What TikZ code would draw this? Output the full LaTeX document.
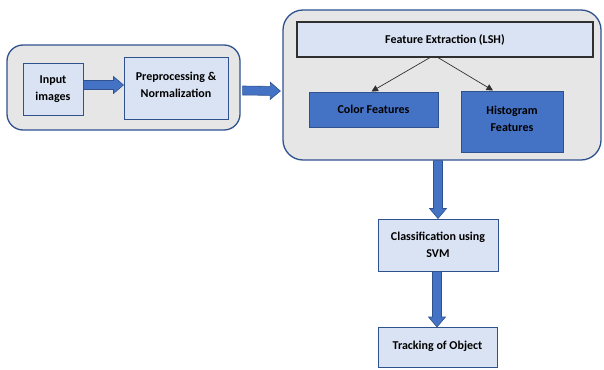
\documentclass[tikz,border=0pt]{standalone}
\usepackage{fontspec}
\setmainfont{Carlito}
\usetikzlibrary{arrows.meta,calc}

\definecolor{lightfill}{HTML}{DAE3F3}
\definecolor{boxedge}{HTML}{2F528F}
\definecolor{panelfill}{HTML}{E7E6E6}
\definecolor{darkfill}{HTML}{4472C4}
\definecolor{darkedge}{HTML}{303030}

\tikzset{
  panel/.style={draw=boxedge, line width=1.3pt, fill=panelfill, rounded corners=16pt, inner sep=0pt},
  stepbox/.style={draw=boxedge, line width=1pt, fill=lightfill, align=center, inner sep=2pt,
    font=\bfseries\fontsize{12}{17.5}\selectfont},
  featbox/.style={stepbox, fill=darkfill},
  headbox/.style={stepbox, draw=darkedge, line width=1.1pt},
  thinarrow/.style={draw=darkedge, line width=0.7pt, -{Triangle[width=6.5pt,length=6.5pt]}},
  % filled block arrow between two points, drawn as an outlined polygon
  blockarrow/.style={fill=darkfill, draw=boxedge, line width=0.6pt,
    to path={let \p1=(\tikztostart), \p2=(\tikztotarget),
      \n1={veclen(\x2-\x1,\y2-\y1)}, \n2={(\x2-\x1)/\n1}, \n3={(\y2-\y1)/\n1} in
      ({\x1-4.5pt*\n3},{\y1+4.5pt*\n2})
      -- ({\x2-10pt*\n2-4.5pt*\n3},{\y2-10pt*\n3+4.5pt*\n2})
      -- ({\x2-10pt*\n2-8.5pt*\n3},{\y2-10pt*\n3+8.5pt*\n2})
      -- (\x2,\y2)
      -- ({\x2-10pt*\n2+8.5pt*\n3},{\y2-10pt*\n3-8.5pt*\n2})
      -- ({\x2-10pt*\n2+4.5pt*\n3},{\y2-10pt*\n3-4.5pt*\n2})
      -- ({\x1+4.5pt*\n3},{\y1-4.5pt*\n2}) -- cycle}}
}

\begin{document}
\begin{tikzpicture}[x=1pt, y=-1pt]
  \useasboundingbox (0,0) rectangle (604,369);

  % panels
  \node[panel, minimum width=233pt, minimum height=85pt] (left) at (123.5,87.5) {};
  \node[panel, rounded corners=20pt, minimum width=318pt, minimum height=150pt] (right) at (442,85) {};

  % left panel steps
  \node[stepbox, minimum width=60pt, minimum height=52pt] (inp) at (53,89) {Input\\images};
  \node[stepbox, minimum width=104pt, minimum height=62pt, text depth=6pt] (pre) at (176,88) {Preprocessing \&\\Normalization};

  % feature extraction
  \node[headbox, minimum width=296pt, minimum height=35pt] (fe) at (445,39.5) {Feature Extraction (LSH)};
  \node[featbox, minimum width=129pt, minimum height=35pt] (col) at (373.5,109.5) {Color Features};
  \node[featbox, minimum width=102pt, minimum height=61pt, text depth=5pt] (hist) at (512,121.5) {Histogram\\Features};

  % later stages
  \node[stepbox, minimum width=120pt, minimum height=52pt] (cls) at (438,245) {Classification using\\SVM};
  \node[stepbox, minimum width=119pt, minimum height=40pt, text depth=5pt] (trk) at (437.5,347.5) {Tracking of Object};

  % connectors
  \path[blockarrow] ($(inp.east)+(0,-4)$) to ($(pre.west)+(0,-3)$);
  \path[blockarrow] ($(left.east)+(2,3)$) to ($(right.west)+(-2,6)$);
  \draw[thinarrow] ($(fe.south)+(-15,0)$) -- ($(col.north)+(-2,0)$);
  \draw[thinarrow] ($(fe.south)+(-7,0)$) -- ($(hist.north)+(-19,0)$);
  \path[blockarrow] (right.south -| cls.north) to (cls.north);
  \path[blockarrow] ($(cls.south)+(-1,0)$) to ($(trk.north)+(-0.5,0)$);
\end{tikzpicture}
\end{document}
